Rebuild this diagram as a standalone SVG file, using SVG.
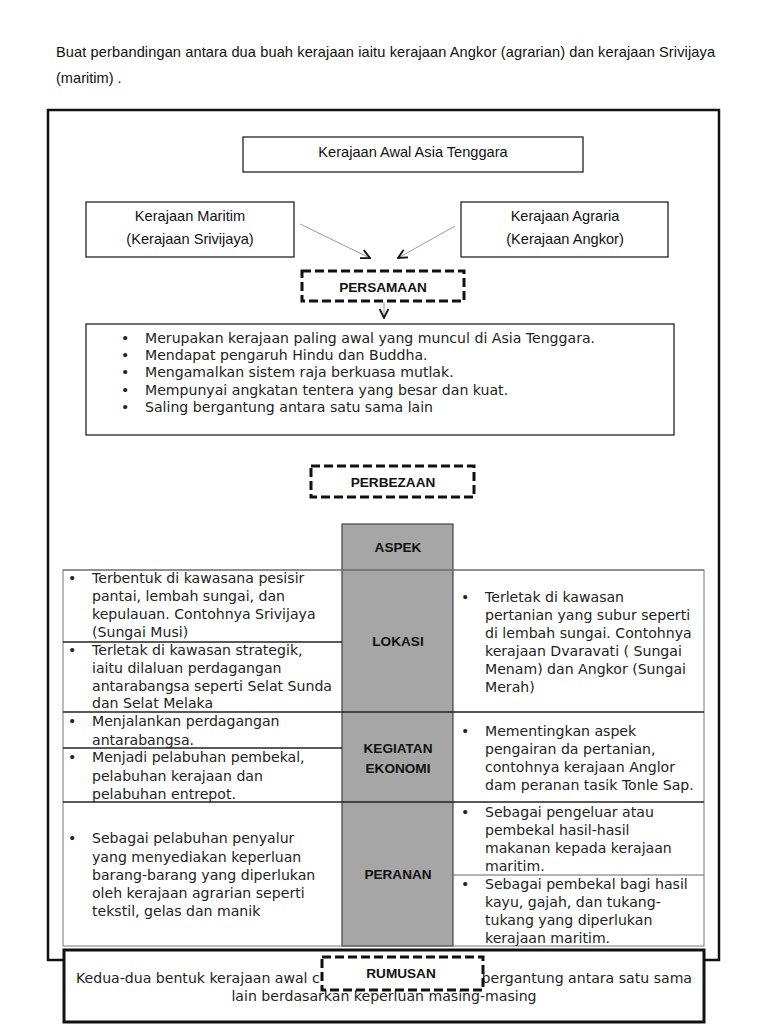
<svg xmlns="http://www.w3.org/2000/svg" width="768" height="1024" viewBox="0 0 768 1024">
<style>
.c{font-family:"Liberation Sans",Arial,sans-serif;font-size:14.6px;fill:#111}
.cb{font-family:"Liberation Sans",Arial,sans-serif;font-size:13.6px;font-weight:bold;fill:#111;text-anchor:middle}
.t{font-family:"DejaVu Sans",Verdana,sans-serif;font-size:14.1px;fill:#222}
.box{fill:#fff;stroke:#111;stroke-width:1.2}
.dash{fill:#fff;stroke:#111;stroke-width:3;stroke-dasharray:9 4}
.g{stroke:#666;stroke-width:1;fill:none}
.d{stroke:#222;stroke-width:1.5;fill:none}
.mid{text-anchor:middle}
</style>
<defs>
<marker id="ah" markerWidth="12" markerHeight="12" refX="0" refY="0" viewBox="-11 -6 12 12" markerUnits="userSpaceOnUse" orient="auto">
<path d="M -9 -4.4 L 0 0 L -9 4.4" fill="none" stroke="#111" stroke-width="1.8"/>
</marker>
</defs>
<rect width="768" height="1024" fill="#fff"/>
<g id="title">
<text class="c" x="56" y="57" textLength="659" lengthAdjust="spacing">Buat perbandingan antara dua buah kerajaan iaitu kerajaan Angkor (agrarian) dan kerajaan Srivijaya</text>
<text class="c" x="56" y="83">(maritim) .</text>
</g>
<rect id="frame" x="48" y="110" width="671" height="850" fill="none" stroke="#111" stroke-width="2.5"/>
<g id="n-awal">
<rect class="box" x="243" y="137" width="340" height="35"/>
<text class="c mid" x="413" y="157">Kerajaan Awal Asia Tenggara</text>
</g>
<g id="n-maritim">
<rect class="box" x="86" y="202" width="208" height="55"/>
<text class="c mid" x="190" y="221">Kerajaan Maritim</text>
<text class="c mid" x="190" y="244">(Kerajaan Srivijaya)</text>
</g>
<g id="n-agraria">
<rect class="box" x="461" y="202" width="207" height="55"/>
<text class="c mid" x="565" y="221">Kerajaan Agraria</text>
<text class="c mid" x="565" y="244">(Kerajaan Angkor)</text>
</g>
<g id="connectors">
<line x1="300" y1="224" x2="370" y2="258" stroke="#999" stroke-width="1" marker-end="url(#ah)"/>
<line x1="455" y1="226" x2="398" y2="258" stroke="#999" stroke-width="1" marker-end="url(#ah)"/>
<line x1="384" y1="302" x2="384" y2="318" stroke="#999" stroke-width="1" marker-end="url(#ah)"/>
</g>
<g id="n-persamaan">
<rect class="dash" x="302" y="271" width="162" height="30"/>
<text class="cb" x="383" y="292">PERSAMAAN</text>
</g>
<g id="n-persamaan-list">
<rect class="box" x="86" y="324" width="588" height="111"/>
<g class="t">
<text x="121" y="343">•</text><text x="145" y="343">Merupakan kerajaan paling awal yang muncul di Asia Tenggara.</text>
<text x="121" y="360">•</text><text x="145" y="360">Mendapat pengaruh Hindu dan Buddha.</text>
<text x="121" y="377">•</text><text x="145" y="377">Mengamalkan sistem raja berkuasa mutlak.</text>
<text x="121" y="395">•</text><text x="145" y="395">Mempunyai angkatan tentera yang besar dan kuat.</text>
<text x="121" y="412">•</text><text x="145" y="412">Saling bergantung antara satu sama lain</text>
</g>
</g>
<g id="n-perbezaan">
<rect class="dash" x="311" y="466" width="163" height="31"/>
<text class="cb" x="393" y="487">PERBEZAAN</text>
</g>
<g id="table">
<rect x="342" y="524" width="111" height="422" fill="#a6a6a6" stroke="#444" stroke-width="1.2"/>
<rect x="63" y="570" width="641" height="376" fill="none" stroke="#777" stroke-width="1"/>
<line class="g" x1="63" y1="570" x2="704" y2="570"/>
<line class="d" x1="63" y1="712" x2="704" y2="712"/>
<line class="d" x1="63" y1="802" x2="704" y2="802"/>
<line class="d" x1="63" y1="642" x2="342" y2="642"/>
<line class="d" x1="63" y1="748" x2="342" y2="748"/>
<line class="g" x1="453" y1="875" x2="704" y2="875"/>
<text class="cb" x="398" y="552">ASPEK</text>
<text class="cb" x="398" y="646">LOKASI</text>
<text class="cb" x="398" y="753">KEGIATAN</text>
<text class="cb" x="398" y="773">EKONOMI</text>
<text class="cb" x="398" y="879">PERANAN</text>
<g class="t">
<text x="68" y="583">•</text>
<text x="92" y="583">Terbentuk di kawasana pesisir</text>
<text x="92" y="601">pantai, lembah sungai, dan</text>
<text x="92" y="619">kepulauan. Contohnya Srivijaya</text>
<text x="92" y="637">(Sungai Musi)</text>
<text x="68" y="655">•</text>
<text x="92" y="655">Terletak di kawasan strategik,</text>
<text x="92" y="673">iaitu dilaluan perdagangan</text>
<text x="92" y="691">antarabangsa seperti Selat Sunda</text>
<text x="92" y="708">dan Selat Melaka</text>
<text x="461" y="602">•</text>
<text x="485" y="602">Terletak di kawasan</text>
<text x="485" y="620">pertanian yang subur seperti</text>
<text x="485" y="638">di lembah sungai. Contohnya</text>
<text x="485" y="656">kerajaan Dvaravati ( Sungai</text>
<text x="485" y="674">Menam) dan Angkor (Sungai</text>
<text x="485" y="692">Merah)</text>
<text x="68" y="726">•</text>
<text x="92" y="726">Menjalankan perdagangan</text>
<text x="92" y="745">antarabangsa.</text>
<text x="68" y="762">•</text>
<text x="92" y="762">Menjadi pelabuhan pembekal,</text>
<text x="92" y="781">pelabuhan kerajaan dan</text>
<text x="92" y="799">pelabuhan entrepot.</text>
<text x="461" y="736">•</text>
<text x="485" y="736">Mementingkan aspek</text>
<text x="485" y="754">pengairan da pertanian,</text>
<text x="485" y="772">contohnya kerajaan Anglor</text>
<text x="485" y="790">dam peranan tasik Tonle Sap.</text>
<text x="68" y="843">•</text>
<text x="92" y="843">Sebagai pelabuhan penyalur</text>
<text x="92" y="862">yang menyediakan keperluan</text>
<text x="92" y="880">barang-barang yang diperlukan</text>
<text x="92" y="898">oleh kerajaan agrarian seperti</text>
<text x="92" y="916">tekstil, gelas dan manik</text>
<text x="461" y="817">•</text>
<text x="485" y="817">Sebagai pengeluar atau</text>
<text x="485" y="835">pembekal hasil-hasil</text>
<text x="485" y="853">makanan kepada kerajaan</text>
<text x="485" y="871">maritim.</text>
<text x="461" y="889">•</text>
<text x="485" y="889">Sebagai pembekal bagi hasil</text>
<text x="485" y="907">kayu, gajah, dan tukang-</text>
<text x="485" y="925">tukang yang diperlukan</text>
<text x="485" y="943">kerajaan maritim.</text>
</g>
</g>
<g id="n-rumusan-box">
<rect x="64" y="950" width="640" height="72" fill="#fff" stroke="#111" stroke-width="3"/>
<text class="t" x="76" y="983">Kedua-dua bentuk kerajaan awal c</text>
<text class="t" x="692" y="983" text-anchor="end">bergantung antara satu sama</text>
<text class="t mid" x="384" y="1001">lain berdasarkan keperluan masing-masing</text>
</g>
<g id="n-rumusan">
<rect class="dash" x="322" y="957" width="161" height="33"/>
<text class="cb" x="401" y="978">RUMUSAN</text>
</g>
</svg>
